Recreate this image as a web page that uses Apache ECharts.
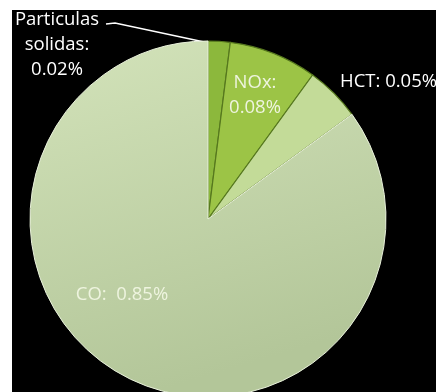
<!DOCTYPE html>
<html>
<head>
<meta charset="utf-8">
<script src="https://cdn.jsdelivr.net/npm/echarts@6/dist/echarts.min.js"></script>
<style>
  html, body { margin: 0; padding: 0; background: #fff; }
  #chart { position: absolute; left: 12px; top: 10px; width: 424px; height: 382px; }
</style>
</head>
<body>
<div id="chart"></div>
<script>
// datos del grafico
const categories = ["Particulas solidas", "NOx", "HCT", "CO"];
const values = [0.02, 0.08, 0.05, 0.85];
const colors = ["#8cb83c", "#9cc446", "#c3db98", "#c6d8a9"];

const myChart = echarts.init(document.getElementById("chart"));

function labelText(p) {
  let v = p.value.toFixed(2) + "%";
  if (p.dataIndex === 0) return p.name.replace(" ", "\n") + ":\n" + v;
  if (p.dataIndex === 1) return p.name + ":\n" + v;
  if (p.dataIndex === 3) return p.name + ":  " + v;
  return p.name + ": " + v;
}

// posiciones de las etiquetas (como en la imagen original)
const labelPos = [
  { x: 45, y: 35, align: "center" },
  { x: 243, y: 85, align: "center" },
  { x: 328, y: 72, align: "left" },
  { x: 110, y: 285, align: "center" },
];

const data = categories.map((name, i) => {
  let item = {
    name: name,
    value: values[i],
    itemStyle: { color: colors[i] },
  };
  if (i === 0) {
    item.label = { position: "outside", color: "#ffffff" };
    item.labelLine = { show: true, lineStyle: { color: "#ffffff", width: 1.5 } };
  } else if (i === 2) {
    item.label = { position: "outside", color: "#ffffff" };
    item.labelLine = { show: false };
  } else if (i === 3) {
    item.itemStyle = {
      color: {
        type: "linear", x: 0, y: 0, x2: 0.3, y2: 1,
        colorStops: [
          { offset: 0, color: "#d3e3ba" },
          { offset: 1, color: "#b3c699" },
        ],
      },
      borderColor: "#e8f0da",
      borderWidth: 1,
    };
  }
  return item;
});

let option = {
  backgroundColor: "#000000",
  animation: false,
  series: [
    {
      type: "pie",
      center: [196, 209],
      radius: 178,
      startAngle: 90,
      clockwise: true,
      avoidLabelOverlap: false,
      itemStyle: {
        borderColor: "#56781e",
        borderWidth: 1.2,
      },
      label: {
        show: true,
        position: "inside",
        formatter: labelText,
        fontFamily: "Open Sans",
        fontSize: 18.5,
        lineHeight: 25,
        color: "#eef4df",
      },
      labelLayout: function (params) {
        let pos = labelPos[params.dataIndex];
        let out = {
          x: pos.x,
          y: pos.y,
          align: pos.align,
          verticalAlign: "middle",
        };
        if (params.dataIndex === 0 && params.labelLinePoints) {
          let start = params.labelLinePoints[0];
          out.labelLinePoints = [
            [start[0] + 5, start[1] + 5],
            [pos.x + 58, pos.y - 22],
            [pos.x + 49, pos.y - 21],
          ];
        }
        return out;
      },
      data: data,
    },
  ],
};
myChart.setOption(option);
</script>
</body>
</html>
